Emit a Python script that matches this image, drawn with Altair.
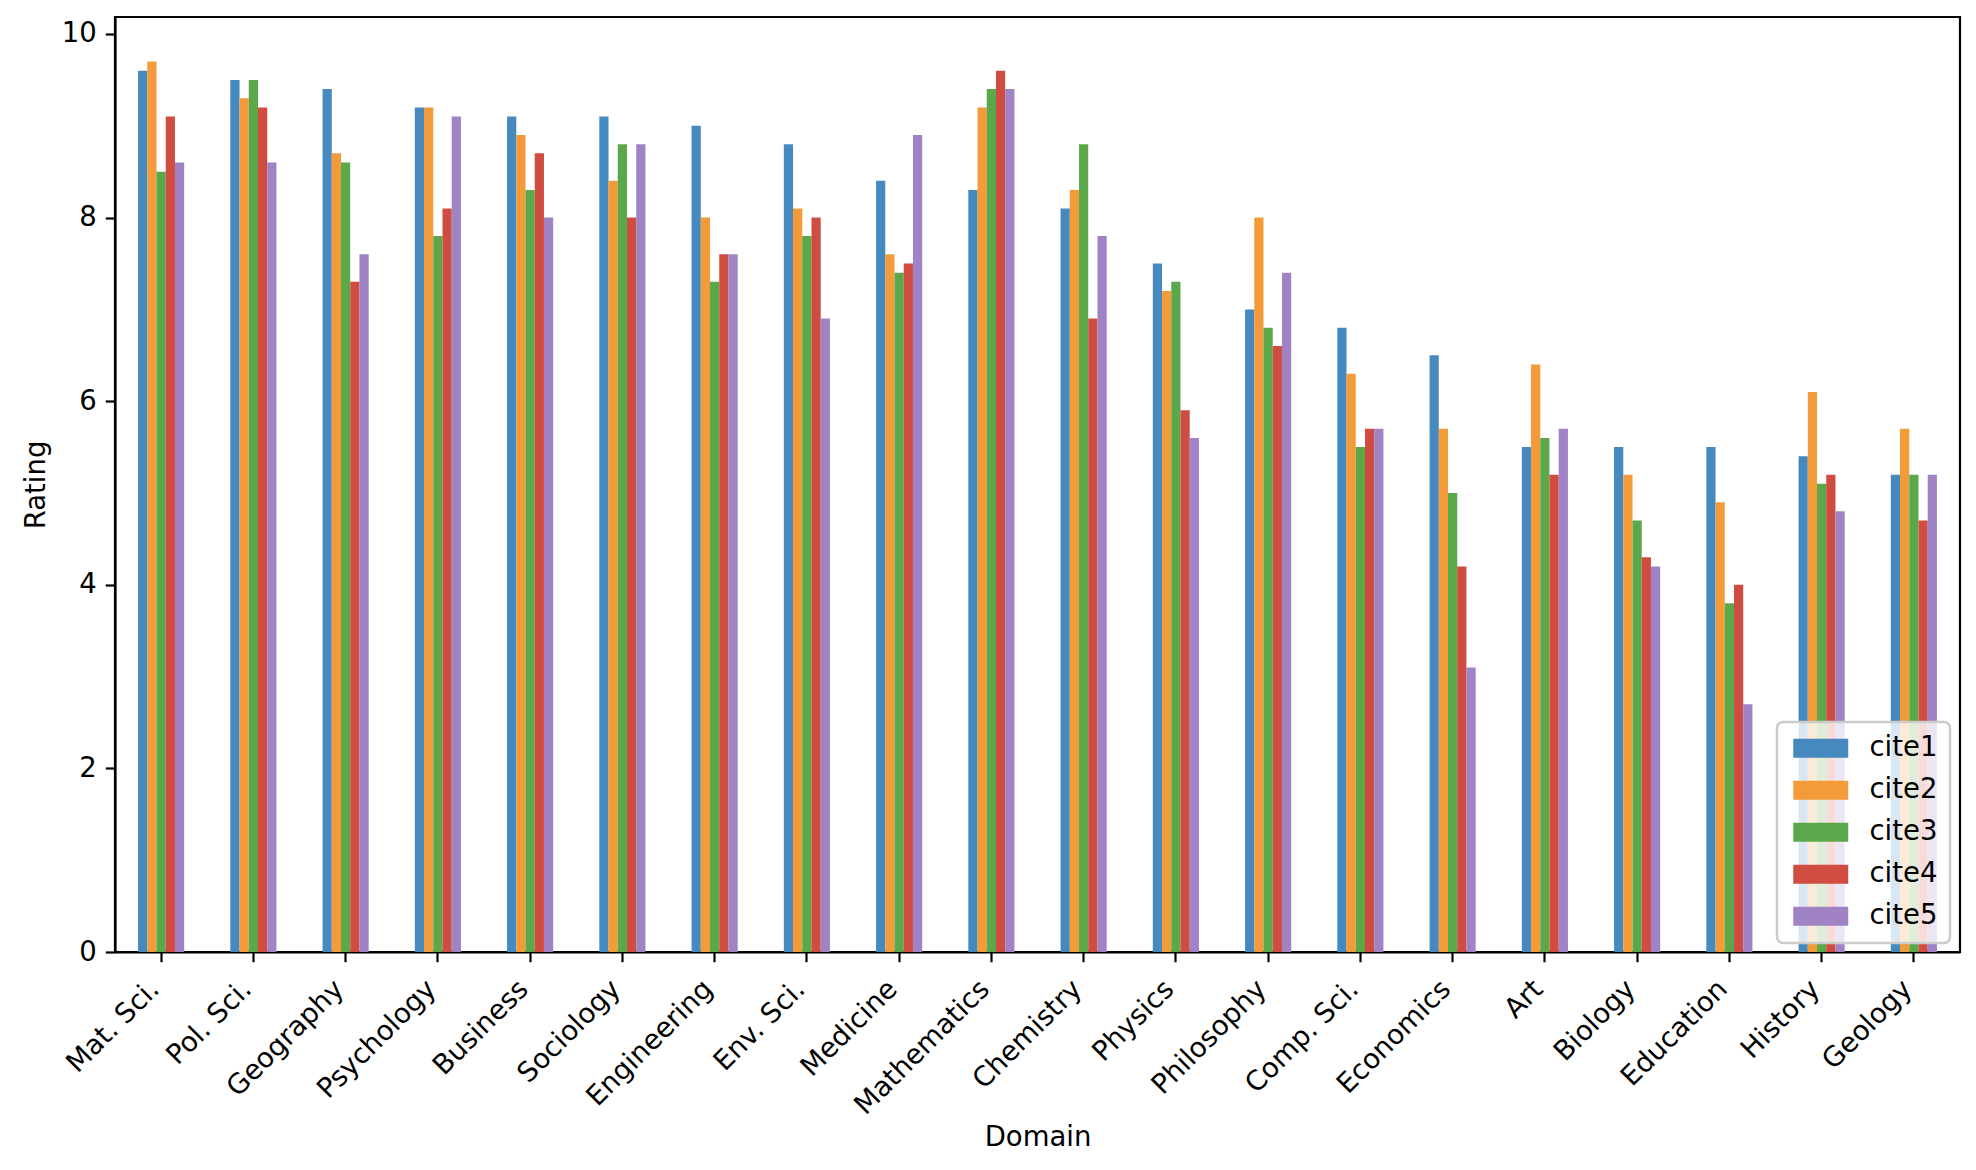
import altair as alt
import pandas as pd

domains = ["Mat. Sci.", "Pol. Sci.", "Geography", "Psychology", "Business", "Sociology",
           "Engineering", "Env. Sci.", "Medicine", "Mathematics", "Chemistry", "Physics",
           "Philosophy", "Comp. Sci.", "Economics", "Art", "Biology", "Education",
           "History", "Geology"]
series = ["cite1", "cite2", "cite3", "cite4", "cite5"]
cite1 = [9.6, 9.5, 9.4, 9.2, 9.1, 9.1, 9.0, 8.8, 8.4, 8.3, 8.1, 7.5, 7.0, 6.8, 6.5, 5.5, 5.5, 5.5, 5.4, 5.2]
cite2 = [9.7, 9.3, 8.7, 9.2, 8.9, 8.4, 8.0, 8.1, 7.6, 9.2, 8.3, 7.2, 8.0, 6.3, 5.7, 6.4, 5.2, 4.9, 6.1, 5.7]
cite3 = [8.5, 9.5, 8.6, 7.8, 8.3, 8.8, 7.3, 7.8, 7.4, 9.4, 8.8, 7.3, 6.8, 5.5, 5.0, 5.6, 4.7, 3.8, 5.1, 5.2]
cite4 = [9.1, 9.2, 7.3, 8.1, 8.7, 8.0, 7.6, 8.0, 7.5, 9.6, 6.9, 5.9, 6.6, 5.7, 4.2, 5.2, 4.3, 4.0, 5.2, 4.7]
cite5 = [8.6, 8.6, 7.6, 9.1, 8.0, 8.8, 7.6, 6.9, 8.9, 9.4, 7.8, 5.6, 7.4, 5.7, 3.1, 5.7, 4.2, 2.7, 4.8, 5.2]
colors = ["#4689BF", "#F39A39", "#5BA84B", "#D04C40", "#A083C5"]
y_ticks = [0, 2, 4, 6, 8, 10]

values = [cite1, cite2, cite3, cite4, cite5]
rows = []
for s, vals in zip(series, values):
    for d, v in zip(domains, vals):
        rows.append({"Domain": d, "series": s, "Rating": v})
df = pd.DataFrame(rows)

FS = 27.5

chart = alt.Chart(df).mark_bar().encode(
    x=alt.X("Domain:N", sort=domains,
            scale=alt.Scale(paddingInner=0.5, paddingOuter=0.25),
            axis=alt.Axis(title="Domain", labelAngle=-45, labelAlign="right",
                          labelBaseline="top", labelOffset=-16, labelPadding=13,
                          titlePadding=4)),
    xOffset=alt.XOffset("series:N", sort=series,
                        scale=alt.Scale(paddingInner=0, paddingOuter=0)),
    y=alt.Y("Rating:Q", scale=alt.Scale(domain=[0, 10.185], nice=False, zero=True),
            axis=alt.Axis(title="Rating", values=y_ticks, labelPadding=9,
                          titlePadding=10.5)),
    color=alt.Color("series:N", sort=series,
                    scale=alt.Scale(domain=series, range=colors),
                    legend=alt.Legend(title=None, orient="none", legendX=1662, legendY=705,
                                      symbolType="M-2.75,-0.95L2.75,-0.95L2.75,0.95L-2.75,0.95Z",
                                      symbolSize=400, symbolOffset=17.5,
                                      symbolStrokeWidth=0, symbolOpacity=1,
                                      labelFontSize=FS, labelOffset=35, rowPadding=13,
                                      padding=12.5, fillColor="rgba(255,255,255,0.8)",
                                      strokeColor="#cccccc", cornerRadius=6, zindex=1)),
).properties(
    width=1845, height=935,
    autosize=alt.AutoSizeParams(type="none"),
    padding={"left": 107, "top": 9, "right": 8, "bottom": 202},
).configure(font="DejaVu Sans").configure_view(
    stroke="black", strokeWidth=2.2
).configure_axis(
    grid=False, labelFontSize=FS, titleFontSize=FS, titleFontWeight="normal",
    labelColor="black", titleColor="black", tickColor="black", domainColor="black",
    tickSize=9.7, tickWidth=2.2, domainWidth=2.2
).configure_legend(
    strokeWidth=2.5, labelColor="black"
)

chart.save("out.html", embed_options={"renderer": "svg", "actions": False})
